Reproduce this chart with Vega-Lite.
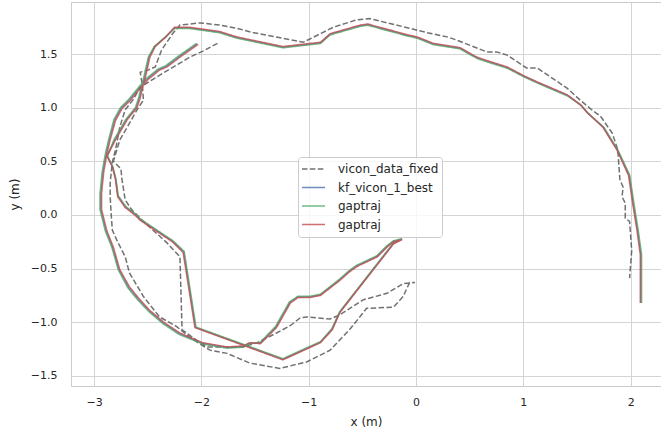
{
  "$schema": "https://vega.github.io/schema/vega-lite/v6.json",
  "width": 590,
  "height": 384,
  "autosize": {"type": "none"},
  "padding": {"left": 71, "top": 2, "right": 0, "bottom": 47},
  "config": {
    "font": "DejaVu Sans",
    "view": {"stroke": "#cccccc", "strokeWidth": 1},
    "axis": {
      "grid": true,
      "gridColor": "#d4d4d4",
      "gridWidth": 1,
      "domain": false,
      "ticks": false,
      "labelColor": "#262626",
      "titleColor": "#262626",
      "labelFontSize": 11,
      "titleFontSize": 12,
      "titleFontWeight": "normal"
    }
  },
  "datasets": {
    "vicon": [
      {"s":"vicon_data_fixed","i":1,"x":-1.85,"y":1.6},
      {"s":"vicon_data_fixed","i":2,"x":-1.98,"y":1.53},
      {"s":"vicon_data_fixed","i":3,"x":-2.11,"y":1.47},
      {"s":"vicon_data_fixed","i":4,"x":-2.26,"y":1.38},
      {"s":"vicon_data_fixed","i":5,"x":-2.41,"y":1.29},
      {"s":"vicon_data_fixed","i":6,"x":-2.57,"y":1.19},
      {"s":"vicon_data_fixed","i":7,"x":-2.64,"y":1.07},
      {"s":"vicon_data_fixed","i":8,"x":-2.71,"y":0.98},
      {"s":"vicon_data_fixed","i":9,"x":-2.76,"y":0.82},
      {"s":"vicon_data_fixed","i":10,"x":-2.8,"y":0.61},
      {"s":"vicon_data_fixed","i":11,"x":-2.83,"y":0.49},
      {"s":"vicon_data_fixed","i":12,"x":-2.85,"y":0.3},
      {"s":"vicon_data_fixed","i":13,"x":-2.85,"y":0.17},
      {"s":"vicon_data_fixed","i":14,"x":-2.84,"y":0.0},
      {"s":"vicon_data_fixed","i":15,"x":-2.83,"y":-0.14},
      {"s":"vicon_data_fixed","i":16,"x":-2.79,"y":-0.23},
      {"s":"vicon_data_fixed","i":17,"x":-2.71,"y":-0.39},
      {"s":"vicon_data_fixed","i":18,"x":-2.67,"y":-0.54},
      {"s":"vicon_data_fixed","i":19,"x":-2.54,"y":-0.76},
      {"s":"vicon_data_fixed","i":20,"x":-2.39,"y":-0.95},
      {"s":"vicon_data_fixed","i":21,"x":-2.23,"y":-1.04},
      {"s":"vicon_data_fixed","i":22,"x":-2.11,"y":-1.14},
      {"s":"vicon_data_fixed","i":23,"x":-1.92,"y":-1.26},
      {"s":"vicon_data_fixed","i":24,"x":-1.76,"y":-1.29},
      {"s":"vicon_data_fixed","i":25,"x":-1.55,"y":-1.38},
      {"s":"vicon_data_fixed","i":26,"x":-1.27,"y":-1.43},
      {"s":"vicon_data_fixed","i":27,"x":-1.02,"y":-1.37},
      {"s":"vicon_data_fixed","i":28,"x":-0.8,"y":-1.26},
      {"s":"vicon_data_fixed","i":29,"x":-0.62,"y":-1.07},
      {"s":"vicon_data_fixed","i":30,"x":-0.46,"y":-0.87},
      {"s":"vicon_data_fixed","i":31,"x":-0.21,"y":-0.86},
      {"s":"vicon_data_fixed","i":32,"x":-0.12,"y":-0.76},
      {"s":"vicon_data_fixed","i":33,"x":-0.06,"y":-0.63},
      {"s":"vicon_data_fixed","i":34,"x":-0.01,"y":-0.63},
      {"s":"vicon_data_fixed","i":35,"x":-0.12,"y":-0.64},
      {"s":"vicon_data_fixed","i":36,"x":-0.27,"y":-0.73},
      {"s":"vicon_data_fixed","i":37,"x":-0.49,"y":-0.79},
      {"s":"vicon_data_fixed","i":38,"x":-0.71,"y":-0.93},
      {"s":"vicon_data_fixed","i":39,"x":-0.8,"y":-0.97},
      {"s":"vicon_data_fixed","i":40,"x":-1.02,"y":-0.95},
      {"s":"vicon_data_fixed","i":41,"x":-1.08,"y":-0.96},
      {"s":"vicon_data_fixed","i":42,"x":-1.17,"y":-1.03},
      {"s":"vicon_data_fixed","i":43,"x":-1.3,"y":-1.1},
      {"s":"vicon_data_fixed","i":44,"x":-1.48,"y":-1.19},
      {"s":"vicon_data_fixed","i":45,"x":-1.61,"y":-1.23},
      {"s":"vicon_data_fixed","i":46,"x":-1.95,"y":-1.23},
      {"s":"vicon_data_fixed","i":47,"x":-2.04,"y":-1.17},
      {"s":"vicon_data_fixed","i":48,"x":-2.18,"y":-1.07},
      {"s":"vicon_data_fixed","i":49,"x":-2.2,"y":-0.39},
      {"s":"vicon_data_fixed","i":50,"x":-2.32,"y":-0.26},
      {"s":"vicon_data_fixed","i":51,"x":-2.53,"y":-0.07},
      {"s":"vicon_data_fixed","i":52,"x":-2.65,"y":0.05},
      {"s":"vicon_data_fixed","i":53,"x":-2.71,"y":0.14},
      {"s":"vicon_data_fixed","i":54,"x":-2.74,"y":0.33},
      {"s":"vicon_data_fixed","i":55,"x":-2.75,"y":0.43},
      {"s":"vicon_data_fixed","i":56,"x":-2.79,"y":0.47},
      {"s":"vicon_data_fixed","i":57,"x":-2.82,"y":0.5},
      {"s":"vicon_data_fixed","i":58,"x":-2.76,"y":0.7},
      {"s":"vicon_data_fixed","i":59,"x":-2.69,"y":0.82},
      {"s":"vicon_data_fixed","i":60,"x":-2.6,"y":0.98},
      {"s":"vicon_data_fixed","i":61,"x":-2.54,"y":1.07},
      {"s":"vicon_data_fixed","i":62,"x":-2.55,"y":1.21},
      {"s":"vicon_data_fixed","i":63,"x":-2.57,"y":1.33},
      {"s":"vicon_data_fixed","i":64,"x":-2.5,"y":1.35},
      {"s":"vicon_data_fixed","i":65,"x":-2.43,"y":1.38},
      {"s":"vicon_data_fixed","i":66,"x":-2.37,"y":1.54},
      {"s":"vicon_data_fixed","i":67,"x":-2.26,"y":1.7},
      {"s":"vicon_data_fixed","i":68,"x":-2.2,"y":1.77},
      {"s":"vicon_data_fixed","i":69,"x":-2.01,"y":1.79},
      {"s":"vicon_data_fixed","i":70,"x":-1.83,"y":1.77},
      {"s":"vicon_data_fixed","i":71,"x":-1.67,"y":1.74},
      {"s":"vicon_data_fixed","i":72,"x":-1.52,"y":1.7},
      {"s":"vicon_data_fixed","i":73,"x":-1.05,"y":1.61},
      {"s":"vicon_data_fixed","i":74,"x":-0.87,"y":1.7},
      {"s":"vicon_data_fixed","i":75,"x":-0.77,"y":1.75},
      {"s":"vicon_data_fixed","i":76,"x":-0.55,"y":1.82},
      {"s":"vicon_data_fixed","i":77,"x":-0.43,"y":1.83},
      {"s":"vicon_data_fixed","i":78,"x":-0.06,"y":1.74},
      {"s":"vicon_data_fixed","i":79,"x":0.1,"y":1.7},
      {"s":"vicon_data_fixed","i":80,"x":0.29,"y":1.66},
      {"s":"vicon_data_fixed","i":81,"x":0.38,"y":1.63},
      {"s":"vicon_data_fixed","i":82,"x":0.66,"y":1.52},
      {"s":"vicon_data_fixed","i":83,"x":0.75,"y":1.52},
      {"s":"vicon_data_fixed","i":84,"x":0.85,"y":1.49},
      {"s":"vicon_data_fixed","i":85,"x":1.03,"y":1.37},
      {"s":"vicon_data_fixed","i":86,"x":1.13,"y":1.37},
      {"s":"vicon_data_fixed","i":87,"x":1.41,"y":1.18},
      {"s":"vicon_data_fixed","i":88,"x":1.53,"y":1.07},
      {"s":"vicon_data_fixed","i":89,"x":1.65,"y":0.97},
      {"s":"vicon_data_fixed","i":90,"x":1.72,"y":0.92},
      {"s":"vicon_data_fixed","i":91,"x":1.83,"y":0.76},
      {"s":"vicon_data_fixed","i":92,"x":1.88,"y":0.61},
      {"s":"vicon_data_fixed","i":93,"x":1.9,"y":0.33},
      {"s":"vicon_data_fixed","i":94,"x":1.93,"y":0.26},
      {"s":"vicon_data_fixed","i":95,"x":1.92,"y":0.17},
      {"s":"vicon_data_fixed","i":96,"x":1.95,"y":0.11},
      {"s":"vicon_data_fixed","i":97,"x":1.95,"y":-0.03},
      {"s":"vicon_data_fixed","i":98,"x":1.99,"y":-0.06},
      {"s":"vicon_data_fixed","i":99,"x":2.01,"y":-0.33},
      {"s":"vicon_data_fixed","i":100,"x":1.99,"y":-0.59}
    ],
    "kf": [
      {"s":"kf_vicon_1_best","i":1,"x":-2.038,"y":1.595},
      {"s":"kf_vicon_1_best","i":2,"x":-2.208,"y":1.475},
      {"s":"kf_vicon_1_best","i":3,"x":-2.328,"y":1.385},
      {"s":"kf_vicon_1_best","i":4,"x":-2.398,"y":1.355},
      {"s":"kf_vicon_1_best","i":5,"x":-2.508,"y":1.265},
      {"s":"kf_vicon_1_best","i":6,"x":-2.578,"y":1.185},
      {"s":"kf_vicon_1_best","i":7,"x":-2.668,"y":1.075},
      {"s":"kf_vicon_1_best","i":8,"x":-2.748,"y":0.995},
      {"s":"kf_vicon_1_best","i":9,"x":-2.808,"y":0.885},
      {"s":"kf_vicon_1_best","i":10,"x":-2.858,"y":0.7},
      {"s":"kf_vicon_1_best","i":11,"x":-2.888,"y":0.57},
      {"s":"kf_vicon_1_best","i":12,"x":-2.918,"y":0.4},
      {"s":"kf_vicon_1_best","i":13,"x":-2.938,"y":0.2},
      {"s":"kf_vicon_1_best","i":14,"x":-2.938,"y":0.05},
      {"s":"kf_vicon_1_best","i":15,"x":-2.888,"y":-0.15},
      {"s":"kf_vicon_1_best","i":16,"x":-2.828,"y":-0.3},
      {"s":"kf_vicon_1_best","i":17,"x":-2.768,"y":-0.51},
      {"s":"kf_vicon_1_best","i":18,"x":-2.678,"y":-0.675},
      {"s":"kf_vicon_1_best","i":19,"x":-2.588,"y":-0.785},
      {"s":"kf_vicon_1_best","i":20,"x":-2.485,"y":-0.895},
      {"s":"kf_vicon_1_best","i":21,"x":-2.355,"y":-1.006},
      {"s":"kf_vicon_1_best","i":22,"x":-2.205,"y":-1.106},
      {"s":"kf_vicon_1_best","i":23,"x":-1.99,"y":-1.196},
      {"s":"kf_vicon_1_best","i":24,"x":-1.76,"y":-1.236},
      {"s":"kf_vicon_1_best","i":25,"x":-1.61,"y":-1.226},
      {"s":"kf_vicon_1_best","i":26,"x":-1.55,"y":-1.195},
      {"s":"kf_vicon_1_best","i":27,"x":-1.452,"y":-1.195},
      {"s":"kf_vicon_1_best","i":28,"x":-1.305,"y":-1.045},
      {"s":"kf_vicon_1_best","i":29,"x":-1.175,"y":-0.815},
      {"s":"kf_vicon_1_best","i":30,"x":-1.1,"y":-0.764},
      {"s":"kf_vicon_1_best","i":31,"x":-0.99,"y":-0.764},
      {"s":"kf_vicon_1_best","i":32,"x":-0.89,"y":-0.744},
      {"s":"kf_vicon_1_best","i":33,"x":-0.712,"y":-0.605},
      {"s":"kf_vicon_1_best","i":34,"x":-0.622,"y":-0.525},
      {"s":"kf_vicon_1_best","i":35,"x":-0.552,"y":-0.475},
      {"s":"kf_vicon_1_best","i":36,"x":-0.362,"y":-0.385},
      {"s":"kf_vicon_1_best","i":37,"x":-0.272,"y":-0.295},
      {"s":"kf_vicon_1_best","i":38,"x":-0.21,"y":-0.245},
      {"s":"kf_vicon_1_best","i":39,"x":-0.13,"y":-0.225},
      {"s":"kf_vicon_1_best","i":40,"x":-0.21,"y":-0.265},
      {"s":"kf_vicon_1_best","i":41,"x":-0.71,"y":-0.905},
      {"s":"kf_vicon_1_best","i":42,"x":-0.782,"y":-1.065},
      {"s":"kf_vicon_1_best","i":43,"x":-0.89,"y":-1.185},
      {"s":"kf_vicon_1_best","i":44,"x":-1.24,"y":-1.345},
      {"s":"kf_vicon_1_best","i":45,"x":-2.055,"y":-1.048},
      {"s":"kf_vicon_1_best","i":46,"x":-2.165,"y":-0.345},
      {"s":"kf_vicon_1_best","i":47,"x":-2.268,"y":-0.245},
      {"s":"kf_vicon_1_best","i":48,"x":-2.358,"y":-0.185},
      {"s":"kf_vicon_1_best","i":49,"x":-2.568,"y":-0.045},
      {"s":"kf_vicon_1_best","i":50,"x":-2.618,"y":0.005},
      {"s":"kf_vicon_1_best","i":51,"x":-2.708,"y":0.075},
      {"s":"kf_vicon_1_best","i":52,"x":-2.778,"y":0.175},
      {"s":"kf_vicon_1_best","i":53,"x":-2.798,"y":0.33},
      {"s":"kf_vicon_1_best","i":54,"x":-2.828,"y":0.45},
      {"s":"kf_vicon_1_best","i":55,"x":-2.878,"y":0.55},
      {"s":"kf_vicon_1_best","i":56,"x":-2.808,"y":0.7},
      {"s":"kf_vicon_1_best","i":57,"x":-2.698,"y":0.89},
      {"s":"kf_vicon_1_best","i":58,"x":-2.608,"y":1.0},
      {"s":"kf_vicon_1_best","i":59,"x":-2.578,"y":1.09},
      {"s":"kf_vicon_1_best","i":60,"x":-2.558,"y":1.18},
      {"s":"kf_vicon_1_best","i":61,"x":-2.528,"y":1.29},
      {"s":"kf_vicon_1_best","i":62,"x":-2.488,"y":1.47},
      {"s":"kf_vicon_1_best","i":63,"x":-2.435,"y":1.57},
      {"s":"kf_vicon_1_best","i":64,"x":-2.335,"y":1.657},
      {"s":"kf_vicon_1_best","i":65,"x":-2.25,"y":1.744},
      {"s":"kf_vicon_1_best","i":66,"x":-2.11,"y":1.744},
      {"s":"kf_vicon_1_best","i":67,"x":-2.04,"y":1.734},
      {"s":"kf_vicon_1_best","i":68,"x":-1.83,"y":1.704},
      {"s":"kf_vicon_1_best","i":69,"x":-1.67,"y":1.654},
      {"s":"kf_vicon_1_best","i":70,"x":-1.24,"y":1.564},
      {"s":"kf_vicon_1_best","i":71,"x":-0.89,"y":1.604},
      {"s":"kf_vicon_1_best","i":72,"x":-0.8,"y":1.684},
      {"s":"kf_vicon_1_best","i":73,"x":-0.52,"y":1.764},
      {"s":"kf_vicon_1_best","i":74,"x":-0.45,"y":1.774},
      {"s":"kf_vicon_1_best","i":75,"x":-0.08,"y":1.674},
      {"s":"kf_vicon_1_best","i":76,"x":0.01,"y":1.654},
      {"s":"kf_vicon_1_best","i":77,"x":0.16,"y":1.594},
      {"s":"kf_vicon_1_best","i":78,"x":0.41,"y":1.554},
      {"s":"kf_vicon_1_best","i":79,"x":0.57,"y":1.464},
      {"s":"kf_vicon_1_best","i":80,"x":0.69,"y":1.424},
      {"s":"kf_vicon_1_best","i":81,"x":0.85,"y":1.374},
      {"s":"kf_vicon_1_best","i":82,"x":1.002,"y":1.294},
      {"s":"kf_vicon_1_best","i":83,"x":1.132,"y":1.234},
      {"s":"kf_vicon_1_best","i":84,"x":1.412,"y":1.114},
      {"s":"kf_vicon_1_best","i":85,"x":1.535,"y":1.025},
      {"s":"kf_vicon_1_best","i":86,"x":1.595,"y":0.955},
      {"s":"kf_vicon_1_best","i":87,"x":1.746,"y":0.818},
      {"s":"kf_vicon_1_best","i":88,"x":1.876,"y":0.608},
      {"s":"kf_vicon_1_best","i":89,"x":1.986,"y":0.37},
      {"s":"kf_vicon_1_best","i":90,"x":2.026,"y":0.1},
      {"s":"kf_vicon_1_best","i":91,"x":2.066,"y":-0.15},
      {"s":"kf_vicon_1_best","i":92,"x":2.096,"y":-0.37},
      {"s":"kf_vicon_1_best","i":93,"x":2.096,"y":-0.82}
    ],
    "gap1": [
      {"s":"gaptraj_1","i":1,"x":-2.045,"y":1.6},
      {"s":"gaptraj_1","i":2,"x":-2.215,"y":1.48},
      {"s":"gaptraj_1","i":3,"x":-2.335,"y":1.39},
      {"s":"gaptraj_1","i":4,"x":-2.405,"y":1.36},
      {"s":"gaptraj_1","i":5,"x":-2.515,"y":1.27},
      {"s":"gaptraj_1","i":6,"x":-2.585,"y":1.19},
      {"s":"gaptraj_1","i":7,"x":-2.675,"y":1.08},
      {"s":"gaptraj_1","i":8,"x":-2.755,"y":1.0},
      {"s":"gaptraj_1","i":9,"x":-2.815,"y":0.89},
      {"s":"gaptraj_1","i":10,"x":-2.865,"y":0.7},
      {"s":"gaptraj_1","i":11,"x":-2.895,"y":0.57},
      {"s":"gaptraj_1","i":12,"x":-2.925,"y":0.4},
      {"s":"gaptraj_1","i":13,"x":-2.945,"y":0.2},
      {"s":"gaptraj_1","i":14,"x":-2.945,"y":0.05},
      {"s":"gaptraj_1","i":15,"x":-2.895,"y":-0.15},
      {"s":"gaptraj_1","i":16,"x":-2.835,"y":-0.3},
      {"s":"gaptraj_1","i":17,"x":-2.775,"y":-0.51},
      {"s":"gaptraj_1","i":18,"x":-2.685,"y":-0.68},
      {"s":"gaptraj_1","i":19,"x":-2.595,"y":-0.79},
      {"s":"gaptraj_1","i":20,"x":-2.49,"y":-0.9},
      {"s":"gaptraj_1","i":21,"x":-2.36,"y":-1.012},
      {"s":"gaptraj_1","i":22,"x":-2.21,"y":-1.112},
      {"s":"gaptraj_1","i":23,"x":-1.99,"y":-1.202},
      {"s":"gaptraj_1","i":24,"x":-1.76,"y":-1.242},
      {"s":"gaptraj_1","i":25,"x":-1.61,"y":-1.232},
      {"s":"gaptraj_1","i":26,"x":-1.55,"y":-1.2},
      {"s":"gaptraj_1","i":27,"x":-1.455,"y":-1.19},
      {"s":"gaptraj_1","i":28,"x":-1.31,"y":-1.04},
      {"s":"gaptraj_1","i":29,"x":-1.18,"y":-0.81},
      {"s":"gaptraj_1","i":30,"x":-1.1,"y":-0.758},
      {"s":"gaptraj_1","i":31,"x":-0.99,"y":-0.758},
      {"s":"gaptraj_1","i":32,"x":-0.89,"y":-0.738},
      {"s":"gaptraj_1","i":33,"x":-0.715,"y":-0.6},
      {"s":"gaptraj_1","i":34,"x":-0.625,"y":-0.52},
      {"s":"gaptraj_1","i":35,"x":-0.555,"y":-0.47},
      {"s":"gaptraj_1","i":36,"x":-0.365,"y":-0.38},
      {"s":"gaptraj_1","i":37,"x":-0.275,"y":-0.29},
      {"s":"gaptraj_1","i":38,"x":-0.21,"y":-0.24},
      {"s":"gaptraj_1","i":39,"x":-0.13,"y":-0.22},
      {"s":"gaptraj_1","i":40,"x":-0.21,"y":-0.26},
      {"s":"gaptraj_1","i":41,"x":-0.71,"y":-0.9},
      {"s":"gaptraj_1","i":42,"x":-0.785,"y":-1.06},
      {"s":"gaptraj_1","i":43,"x":-0.89,"y":-1.18},
      {"s":"gaptraj_1","i":44,"x":-1.24,"y":-1.34},
      {"s":"gaptraj_1","i":45,"x":-2.05,"y":-1.045},
      {"s":"gaptraj_1","i":46,"x":-2.16,"y":-0.34},
      {"s":"gaptraj_1","i":47,"x":-2.265,"y":-0.24},
      {"s":"gaptraj_1","i":48,"x":-2.355,"y":-0.18},
      {"s":"gaptraj_1","i":49,"x":-2.565,"y":-0.04},
      {"s":"gaptraj_1","i":50,"x":-2.615,"y":0.01},
      {"s":"gaptraj_1","i":51,"x":-2.705,"y":0.08},
      {"s":"gaptraj_1","i":52,"x":-2.775,"y":0.18},
      {"s":"gaptraj_1","i":53,"x":-2.795,"y":0.33},
      {"s":"gaptraj_1","i":54,"x":-2.825,"y":0.45},
      {"s":"gaptraj_1","i":55,"x":-2.875,"y":0.55},
      {"s":"gaptraj_1","i":56,"x":-2.815,"y":0.7},
      {"s":"gaptraj_1","i":57,"x":-2.705,"y":0.89},
      {"s":"gaptraj_1","i":58,"x":-2.615,"y":1.0},
      {"s":"gaptraj_1","i":59,"x":-2.585,"y":1.09},
      {"s":"gaptraj_1","i":60,"x":-2.565,"y":1.18},
      {"s":"gaptraj_1","i":61,"x":-2.535,"y":1.29},
      {"s":"gaptraj_1","i":62,"x":-2.495,"y":1.47},
      {"s":"gaptraj_1","i":63,"x":-2.44,"y":1.57},
      {"s":"gaptraj_1","i":64,"x":-2.34,"y":1.655},
      {"s":"gaptraj_1","i":65,"x":-2.25,"y":1.738},
      {"s":"gaptraj_1","i":66,"x":-2.11,"y":1.738},
      {"s":"gaptraj_1","i":67,"x":-2.04,"y":1.728},
      {"s":"gaptraj_1","i":68,"x":-1.83,"y":1.698},
      {"s":"gaptraj_1","i":69,"x":-1.67,"y":1.648},
      {"s":"gaptraj_1","i":70,"x":-1.24,"y":1.558},
      {"s":"gaptraj_1","i":71,"x":-0.89,"y":1.598},
      {"s":"gaptraj_1","i":72,"x":-0.8,"y":1.678},
      {"s":"gaptraj_1","i":73,"x":-0.52,"y":1.758},
      {"s":"gaptraj_1","i":74,"x":-0.45,"y":1.768},
      {"s":"gaptraj_1","i":75,"x":-0.08,"y":1.668},
      {"s":"gaptraj_1","i":76,"x":0.01,"y":1.648},
      {"s":"gaptraj_1","i":77,"x":0.16,"y":1.588},
      {"s":"gaptraj_1","i":78,"x":0.41,"y":1.548},
      {"s":"gaptraj_1","i":79,"x":0.57,"y":1.458},
      {"s":"gaptraj_1","i":80,"x":0.69,"y":1.418},
      {"s":"gaptraj_1","i":81,"x":0.85,"y":1.368},
      {"s":"gaptraj_1","i":82,"x":1.005,"y":1.288},
      {"s":"gaptraj_1","i":83,"x":1.135,"y":1.228},
      {"s":"gaptraj_1","i":84,"x":1.415,"y":1.108},
      {"s":"gaptraj_1","i":85,"x":1.54,"y":1.02},
      {"s":"gaptraj_1","i":86,"x":1.6,"y":0.95},
      {"s":"gaptraj_1","i":87,"x":1.752,"y":0.815},
      {"s":"gaptraj_1","i":88,"x":1.882,"y":0.605},
      {"s":"gaptraj_1","i":89,"x":1.992,"y":0.37},
      {"s":"gaptraj_1","i":90,"x":2.032,"y":0.1},
      {"s":"gaptraj_1","i":91,"x":2.072,"y":-0.15},
      {"s":"gaptraj_1","i":92,"x":2.102,"y":-0.37},
      {"s":"gaptraj_1","i":93,"x":2.102,"y":-0.82}
    ],
    "gap2": [
      {"s":"gaptraj_2","i":1,"x":-2.03,"y":1.59},
      {"s":"gaptraj_2","i":2,"x":-2.2,"y":1.47},
      {"s":"gaptraj_2","i":3,"x":-2.32,"y":1.38},
      {"s":"gaptraj_2","i":4,"x":-2.39,"y":1.35},
      {"s":"gaptraj_2","i":5,"x":-2.5,"y":1.26},
      {"s":"gaptraj_2","i":6,"x":-2.57,"y":1.18},
      {"s":"gaptraj_2","i":7,"x":-2.66,"y":1.07},
      {"s":"gaptraj_2","i":8,"x":-2.74,"y":0.99},
      {"s":"gaptraj_2","i":9,"x":-2.8,"y":0.88},
      {"s":"gaptraj_2","i":10,"x":-2.85,"y":0.7},
      {"s":"gaptraj_2","i":11,"x":-2.88,"y":0.57},
      {"s":"gaptraj_2","i":12,"x":-2.91,"y":0.4},
      {"s":"gaptraj_2","i":13,"x":-2.93,"y":0.2},
      {"s":"gaptraj_2","i":14,"x":-2.93,"y":0.05},
      {"s":"gaptraj_2","i":15,"x":-2.88,"y":-0.15},
      {"s":"gaptraj_2","i":16,"x":-2.82,"y":-0.3},
      {"s":"gaptraj_2","i":17,"x":-2.76,"y":-0.51},
      {"s":"gaptraj_2","i":18,"x":-2.67,"y":-0.67},
      {"s":"gaptraj_2","i":19,"x":-2.58,"y":-0.78},
      {"s":"gaptraj_2","i":20,"x":-2.48,"y":-0.89},
      {"s":"gaptraj_2","i":21,"x":-2.35,"y":-1.0},
      {"s":"gaptraj_2","i":22,"x":-2.2,"y":-1.1},
      {"s":"gaptraj_2","i":23,"x":-1.99,"y":-1.19},
      {"s":"gaptraj_2","i":24,"x":-1.76,"y":-1.23},
      {"s":"gaptraj_2","i":25,"x":-1.61,"y":-1.22},
      {"s":"gaptraj_2","i":26,"x":-1.55,"y":-1.19},
      {"s":"gaptraj_2","i":27,"x":-1.45,"y":-1.2},
      {"s":"gaptraj_2","i":28,"x":-1.3,"y":-1.05},
      {"s":"gaptraj_2","i":29,"x":-1.17,"y":-0.82},
      {"s":"gaptraj_2","i":30,"x":-1.1,"y":-0.77},
      {"s":"gaptraj_2","i":31,"x":-0.99,"y":-0.77},
      {"s":"gaptraj_2","i":32,"x":-0.89,"y":-0.75},
      {"s":"gaptraj_2","i":33,"x":-0.71,"y":-0.61},
      {"s":"gaptraj_2","i":34,"x":-0.62,"y":-0.53},
      {"s":"gaptraj_2","i":35,"x":-0.55,"y":-0.48},
      {"s":"gaptraj_2","i":36,"x":-0.36,"y":-0.39},
      {"s":"gaptraj_2","i":37,"x":-0.27,"y":-0.3},
      {"s":"gaptraj_2","i":38,"x":-0.21,"y":-0.25},
      {"s":"gaptraj_2","i":39,"x":-0.13,"y":-0.23},
      {"s":"gaptraj_2","i":40,"x":-0.21,"y":-0.27},
      {"s":"gaptraj_2","i":41,"x":-0.71,"y":-0.91},
      {"s":"gaptraj_2","i":42,"x":-0.78,"y":-1.07},
      {"s":"gaptraj_2","i":43,"x":-0.89,"y":-1.19},
      {"s":"gaptraj_2","i":44,"x":-1.24,"y":-1.35},
      {"s":"gaptraj_2","i":45,"x":-2.06,"y":-1.05},
      {"s":"gaptraj_2","i":46,"x":-2.17,"y":-0.35},
      {"s":"gaptraj_2","i":47,"x":-2.27,"y":-0.25},
      {"s":"gaptraj_2","i":48,"x":-2.36,"y":-0.19},
      {"s":"gaptraj_2","i":49,"x":-2.57,"y":-0.05},
      {"s":"gaptraj_2","i":50,"x":-2.62,"y":0.0},
      {"s":"gaptraj_2","i":51,"x":-2.71,"y":0.07},
      {"s":"gaptraj_2","i":52,"x":-2.78,"y":0.17},
      {"s":"gaptraj_2","i":53,"x":-2.8,"y":0.33},
      {"s":"gaptraj_2","i":54,"x":-2.83,"y":0.45},
      {"s":"gaptraj_2","i":55,"x":-2.88,"y":0.55},
      {"s":"gaptraj_2","i":56,"x":-2.8,"y":0.7},
      {"s":"gaptraj_2","i":57,"x":-2.69,"y":0.89},
      {"s":"gaptraj_2","i":58,"x":-2.6,"y":1.0},
      {"s":"gaptraj_2","i":59,"x":-2.57,"y":1.09},
      {"s":"gaptraj_2","i":60,"x":-2.55,"y":1.18},
      {"s":"gaptraj_2","i":61,"x":-2.52,"y":1.29},
      {"s":"gaptraj_2","i":62,"x":-2.48,"y":1.47},
      {"s":"gaptraj_2","i":63,"x":-2.43,"y":1.57},
      {"s":"gaptraj_2","i":64,"x":-2.33,"y":1.66},
      {"s":"gaptraj_2","i":65,"x":-2.25,"y":1.75},
      {"s":"gaptraj_2","i":66,"x":-2.11,"y":1.75},
      {"s":"gaptraj_2","i":67,"x":-2.04,"y":1.74},
      {"s":"gaptraj_2","i":68,"x":-1.83,"y":1.71},
      {"s":"gaptraj_2","i":69,"x":-1.67,"y":1.66},
      {"s":"gaptraj_2","i":70,"x":-1.24,"y":1.57},
      {"s":"gaptraj_2","i":71,"x":-0.89,"y":1.61},
      {"s":"gaptraj_2","i":72,"x":-0.8,"y":1.69},
      {"s":"gaptraj_2","i":73,"x":-0.52,"y":1.77},
      {"s":"gaptraj_2","i":74,"x":-0.45,"y":1.78},
      {"s":"gaptraj_2","i":75,"x":-0.08,"y":1.68},
      {"s":"gaptraj_2","i":76,"x":0.01,"y":1.66},
      {"s":"gaptraj_2","i":77,"x":0.16,"y":1.6},
      {"s":"gaptraj_2","i":78,"x":0.41,"y":1.56},
      {"s":"gaptraj_2","i":79,"x":0.57,"y":1.47},
      {"s":"gaptraj_2","i":80,"x":0.69,"y":1.43},
      {"s":"gaptraj_2","i":81,"x":0.85,"y":1.38},
      {"s":"gaptraj_2","i":82,"x":1.0,"y":1.3},
      {"s":"gaptraj_2","i":83,"x":1.13,"y":1.24},
      {"s":"gaptraj_2","i":84,"x":1.41,"y":1.12},
      {"s":"gaptraj_2","i":85,"x":1.53,"y":1.03},
      {"s":"gaptraj_2","i":86,"x":1.59,"y":0.96},
      {"s":"gaptraj_2","i":87,"x":1.74,"y":0.82},
      {"s":"gaptraj_2","i":88,"x":1.87,"y":0.61},
      {"s":"gaptraj_2","i":89,"x":1.98,"y":0.37},
      {"s":"gaptraj_2","i":90,"x":2.02,"y":0.1},
      {"s":"gaptraj_2","i":91,"x":2.06,"y":-0.15},
      {"s":"gaptraj_2","i":92,"x":2.09,"y":-0.37},
      {"s":"gaptraj_2","i":93,"x":2.09,"y":-0.82}
    ]
  },
  "encoding": {
    "x": {"field": "x", "type": "quantitative", "scale": {"domain": [-3.215, 2.283], "nice": false, "zero": false},
          "axis": {"title": "x (m)", "values": [-3, -2, -1, 0, 1, 2], "format": "d", "labelPadding": 10, "titlePadding": 9}},
    "y": {"field": "y", "type": "quantitative", "scale": {"domain": [-1.594, 1.985], "nice": false, "zero": false},
          "axis": {"title": "y (m)", "values": [-1.5, -1.0, -0.5, 0.0, 0.5, 1.0, 1.5], "format": ".1f", "labelPadding": 14, "titlePadding": 9}},
    "order": {"field": "i", "type": "quantitative"},
    "color": {"field": "s", "type": "nominal",
      "scale": {"domain": ["vicon_data_fixed", "kf_vicon_1_best", "gaptraj_1", "gaptraj_2"], "range": ["#4d4d4d", "#4C72B0", "#55A868", "#C44E52"]},
      "legend": {"title": null, "orient": "none", "legendX": 227, "legendY": 155, "symbolType": "stroke", "symbolSize": 529, "symbolStrokeWidth": 1.5, "symbolOpacity": 0.8, "clipHeight": 18, "rowPadding": 0.5, "padding": 3, "labelFontSize": 12, "labelColor": "#262626", "labelOffset": 12, "fillColor": "rgba(255,255,255,0.8)", "strokeColor": "#cccccc", "cornerRadius": 3, "labelExpr": "indexof(datum.label, 'gaptraj') == 0 ? 'gaptraj' : datum.label"}},
    "strokeDash": {"field": "s", "type": "nominal",
      "scale": {"domain": ["vicon_data_fixed", "kf_vicon_1_best", "gaptraj_1", "gaptraj_2"], "range": [[5.5, 2.4], [1, 0], [1, 0], [1, 0]]},
      "legend": {"title": null, "orient": "none", "legendX": 227, "legendY": 155, "symbolType": "stroke", "symbolSize": 529, "symbolStrokeWidth": 1.5, "symbolOpacity": 0.8, "clipHeight": 18, "rowPadding": 0.5, "padding": 3, "labelFontSize": 12, "labelColor": "#262626", "labelOffset": 12, "fillColor": "rgba(255,255,255,0.8)", "strokeColor": "#cccccc", "cornerRadius": 3, "labelExpr": "indexof(datum.label, 'gaptraj') == 0 ? 'gaptraj' : datum.label"}}
  },
  "layer": [
    {"data": {"name": "vicon"}, "mark": {"type": "line", "strokeWidth": 1.5, "strokeOpacity": 0.8}},
    {"data": {"name": "kf"}, "mark": {"type": "line", "strokeWidth": 1.5, "strokeOpacity": 0.8}},
    {"data": {"name": "gap1"}, "mark": {"type": "line", "strokeWidth": 1.5, "strokeOpacity": 0.8}},
    {"data": {"name": "gap2"}, "mark": {"type": "line", "strokeWidth": 1.5, "strokeOpacity": 0.8}}
  ]
}
